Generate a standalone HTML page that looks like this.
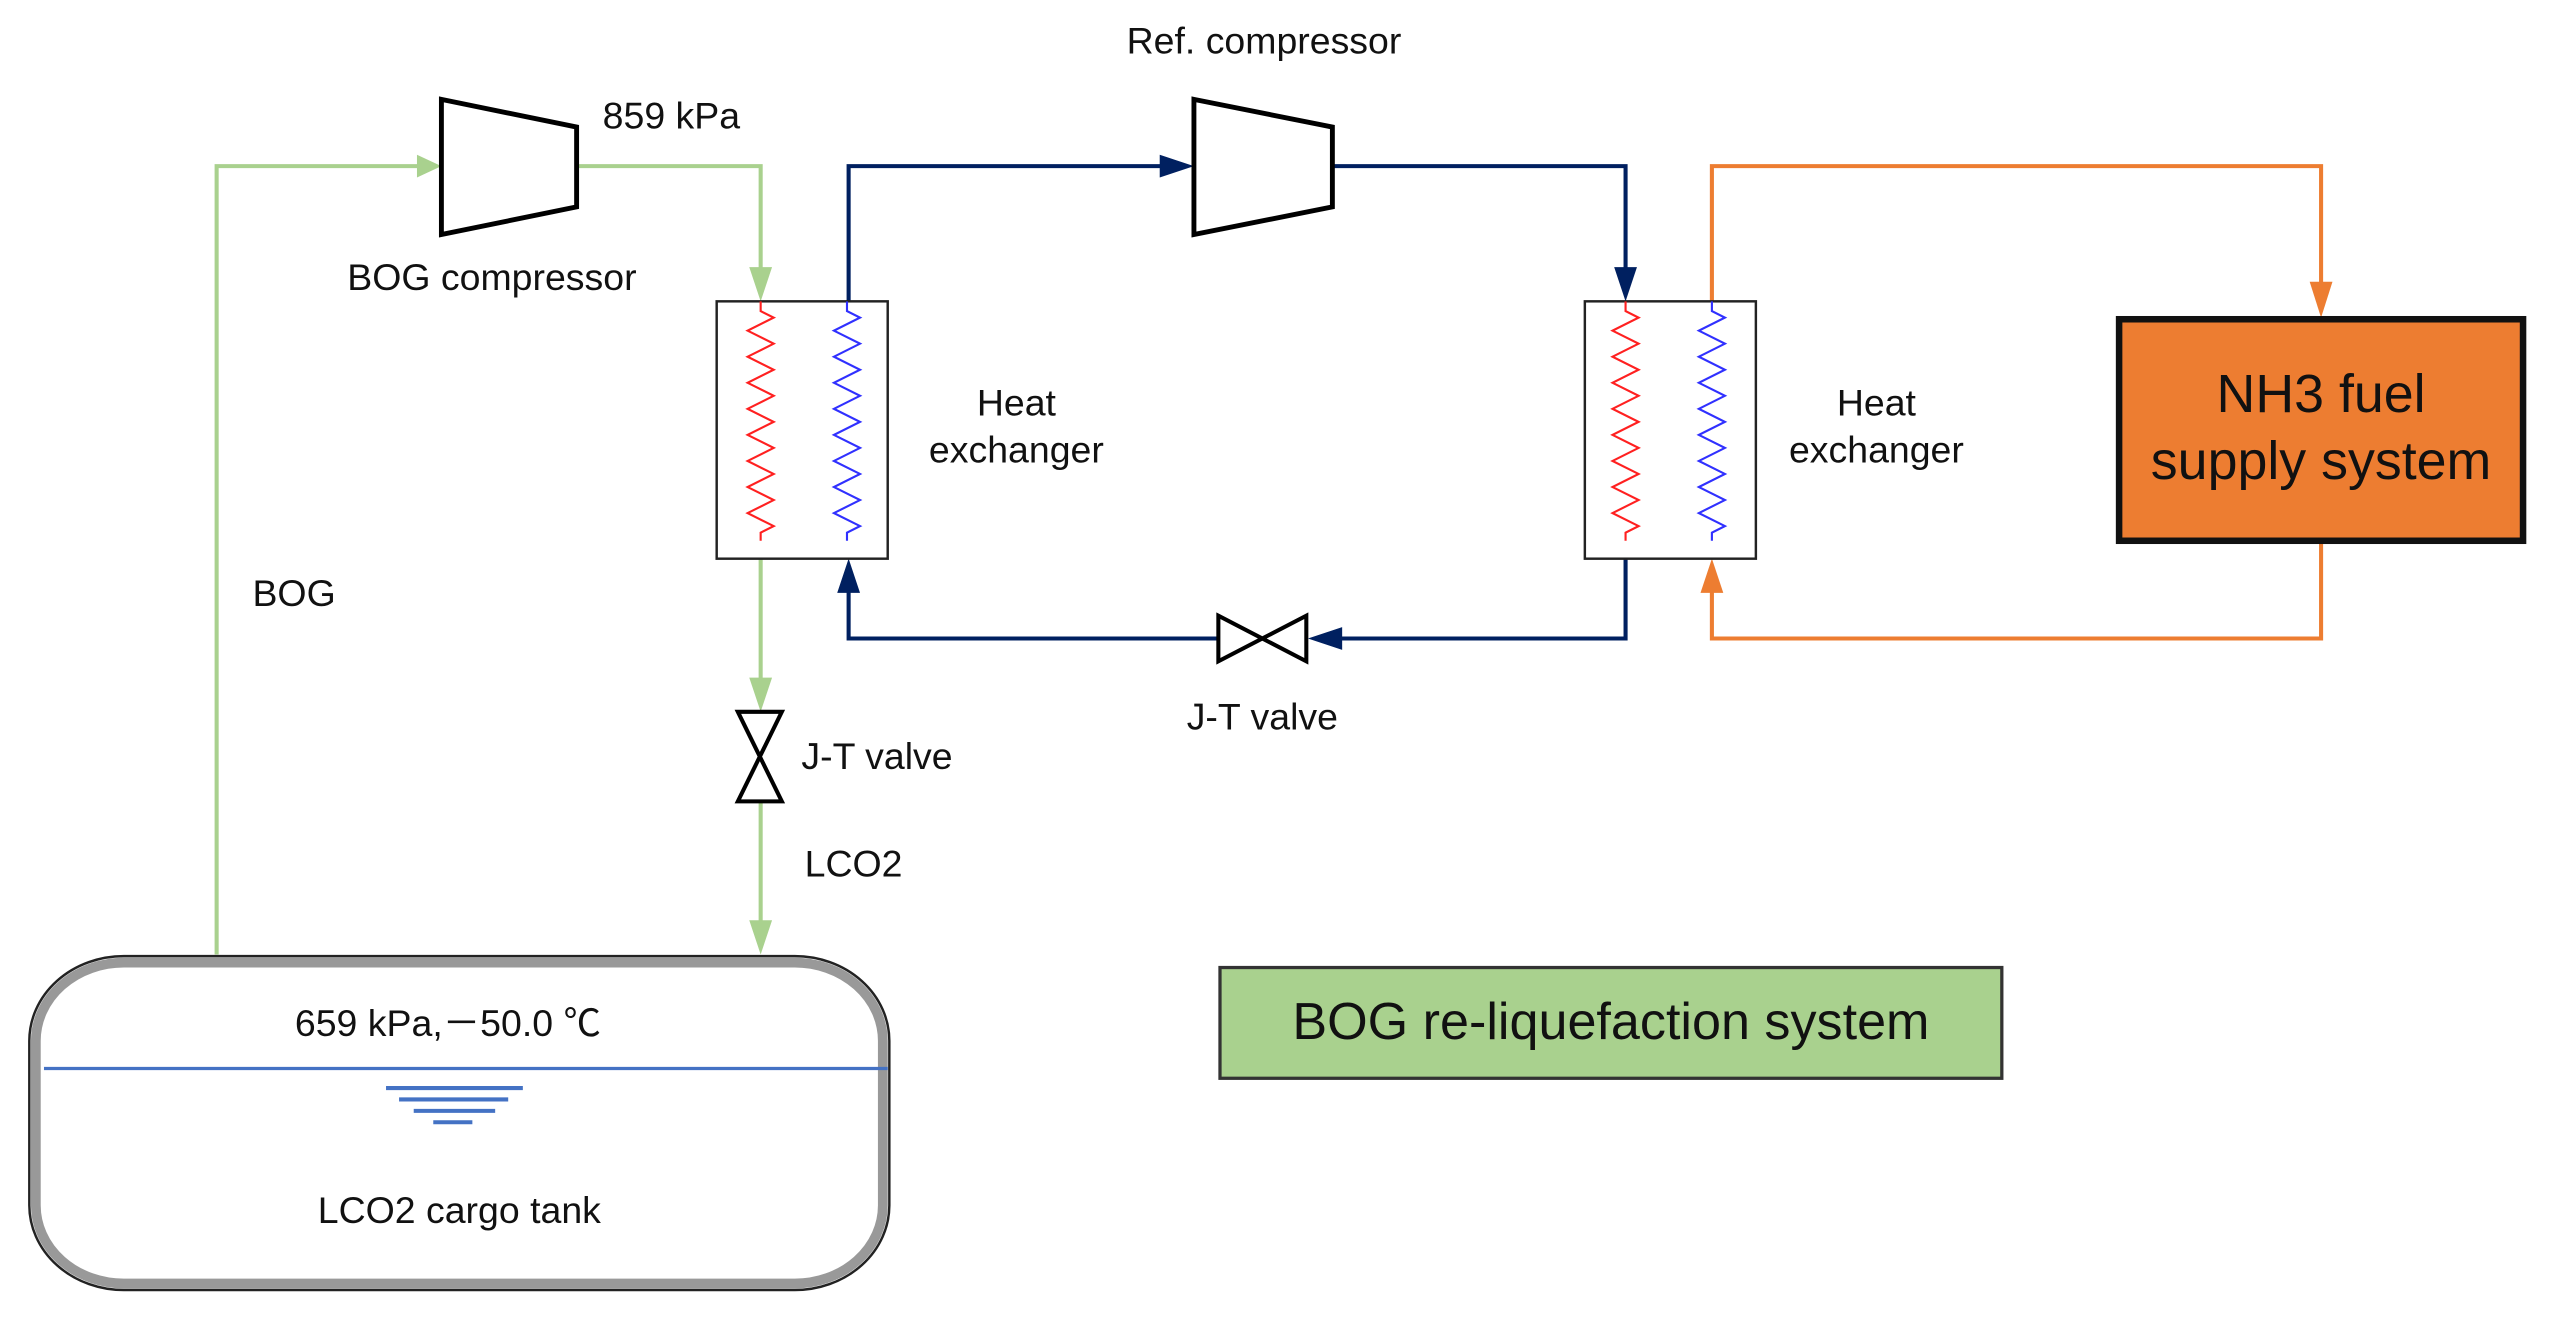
<!DOCTYPE html>
<html><head><meta charset="utf-8"><style>
html,body{margin:0;padding:0;background:#fff;}
svg{display:block}
text{font-family:"Liberation Sans",Arial,sans-serif;fill:#111}
</style></head><body>
<svg width="2554" height="1320" viewBox="0 0 1568 810.4" preserveAspectRatio="none" xmlns="http://www.w3.org/2000/svg">
<rect width="1568" height="811" fill="#fff"/>
<g stroke="#A9D18E" stroke-width="2.5" fill="none">
<polyline points="133,586 133,102 258,102"/>
<polyline points="354,102 467,102 467,170"/>
<line x1="467" y1="343" x2="467" y2="424"/>
<line x1="467" y1="492" x2="467" y2="572"/>
</g>
<g fill="#A9D18E">
<polygon points="256,95 271,102 256,109"/>
<polygon points="460,164 467,185 474,164"/>
<polygon points="460,416 467,437 474,416"/>
<polygon points="460,565 467,586 474,565"/>
</g>
<g stroke="#002060" stroke-width="2.5" fill="none">
<polyline points="521,185 521,102 718,102"/>
<polyline points="818,102 998,102 998,170"/>
<polyline points="998,343 998,392 818,392"/>
<polyline points="748,392 521,392 521,358"/>
</g>
<g fill="#002060">
<polygon points="712,95 733,102 712,109"/>
<polygon points="991,164 998,185 1005,164"/>
<polygon points="824,385 803,392 824,399"/>
<polygon points="514,364 521,343 528,364"/>
</g>
<g stroke="#ED7D31" stroke-width="2.5" fill="none">
<polyline points="1051,185 1051,102 1425,102 1425,178"/>
<polyline points="1425,333 1425,392 1051,392 1051,358"/>
</g>
<g fill="#ED7D31">
<polygon points="1418,173 1425,195 1432,173"/>
<polygon points="1044,364 1051,343 1058,364"/>
</g>
<polygon points="271,61 354,78 354,127 271,144" fill="#fff" stroke="#000" stroke-width="3"/>
<polygon points="733,61 818,78 818,127 733,144" fill="#fff" stroke="#000" stroke-width="3"/>
<rect x="440" y="185" width="105" height="158" fill="#fff" stroke="#222" stroke-width="1.5"/>
<rect x="973" y="185" width="105" height="158" fill="#fff" stroke="#222" stroke-width="1.5"/>
<g fill="none" stroke-width="1.3">
<path stroke="#FF2020" d="M467,185 v6 l8,4 l-16,8 l16,8 l-16,8 l16,8 l-16,8 l16,8 l-16,8 l16,8 l-16,8 l16,8 l-16,8 l16,8 l-16,8 l16,8 l-16,8 l16,8 l-8,4 v5"/>
<path stroke="#3030FF" d="M520,185 v6 l8,4 l-16,8 l16,8 l-16,8 l16,8 l-16,8 l16,8 l-16,8 l16,8 l-16,8 l16,8 l-16,8 l16,8 l-16,8 l16,8 l-16,8 l16,8 l-8,4 v5"/>
<path stroke="#FF2020" d="M998,185 v6 l8,4 l-16,8 l16,8 l-16,8 l16,8 l-16,8 l16,8 l-16,8 l16,8 l-16,8 l16,8 l-16,8 l16,8 l-16,8 l16,8 l-16,8 l16,8 l-8,4 v5"/>
<path stroke="#3030FF" d="M1051,185 v6 l8,4 l-16,8 l16,8 l-16,8 l16,8 l-16,8 l16,8 l-16,8 l16,8 l-16,8 l16,8 l-16,8 l16,8 l-16,8 l16,8 l-16,8 l16,8 l-8,4 v5"/>
</g>
<polygon points="748,378 802,406 802,378 748,406" fill="#fff" stroke="#000" stroke-width="2.5"/>
<polygon points="453,437 480,492 453,492 480,437" fill="#fff" stroke="#000" stroke-width="2.5"/>
<rect x="1301" y="196" width="248" height="136" fill="#ED7D31" stroke="#111" stroke-width="4"/>
<text x="1425" y="253" font-size="33" text-anchor="middle">NH3 fuel</text>
<text x="1425" y="294" font-size="33" text-anchor="middle">supply system</text>
<rect x="749" y="594" width="480" height="68" fill="#A9D18E" stroke="#333" stroke-width="2"/>
<text x="989" y="638" font-size="32" text-anchor="middle">BOG re-liquefaction system</text>
<rect x="18" y="587" width="528" height="205" rx="58" ry="52" fill="#fff" stroke="#222" stroke-width="1.5"/>
<rect x="22" y="591" width="520" height="197" rx="54" ry="48" fill="#fff" stroke="#999" stroke-width="6"/>
<line x1="27" y1="656" x2="545" y2="656" stroke="#4472C4" stroke-width="2"/>
<g stroke="#4472C4" stroke-width="2.5">
<line x1="237" y1="668" x2="321" y2="668"/>
<line x1="245" y1="675" x2="312" y2="675"/>
<line x1="254" y1="682" x2="304" y2="682"/>
<line x1="266" y1="689" x2="290" y2="689"/>
</g>
<g font-size="23">
<text x="776" y="33" text-anchor="middle">Ref. compressor</text>
<text x="370" y="79">859 kPa</text>
<text x="302" y="178" text-anchor="middle">BOG compressor</text>
<text x="624" y="255" text-anchor="middle">Heat</text>
<text x="624" y="284" text-anchor="middle">exchanger</text>
<text x="1152" y="255" text-anchor="middle">Heat</text>
<text x="1152" y="284" text-anchor="middle">exchanger</text>
<text x="155" y="372">BOG</text>
<text x="492" y="472">J-T valve</text>
<text x="775" y="448" text-anchor="middle">J-T valve</text>
<text x="494" y="538">LCO2</text>
<text x="275" y="636" text-anchor="middle">659 kPa,－50.0 ℃</text>
<text x="282" y="751" text-anchor="middle">LCO2 cargo tank</text>
</g>
</svg>
</body></html>
